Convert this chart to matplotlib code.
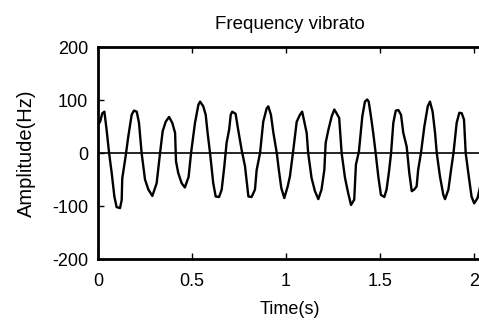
import matplotlib
matplotlib.use('Agg')
import matplotlib.pyplot as plt

# values
time_s = [0.0, 0.011, 0.023, 0.034, 0.046, 0.059, 0.073, 0.087, 0.099, 0.117,
          0.126, 0.129, 0.147, 0.161, 0.179, 0.191, 0.206, 0.218, 0.232, 0.25,
          0.268, 0.289, 0.312, 0.33, 0.344, 0.36, 0.378, 0.395, 0.41, 0.415,
          0.427, 0.445, 0.462, 0.482, 0.495, 0.516, 0.534, 0.543, 0.56, 0.573,
          0.583, 0.596, 0.613, 0.626, 0.644, 0.658, 0.672, 0.684, 0.698, 0.706,
          0.714, 0.732, 0.746, 0.764, 0.782, 0.8, 0.817, 0.835, 0.844, 0.862,
          0.879, 0.897, 0.906, 0.92, 0.933, 0.951, 0.962, 0.975, 0.991, 1.009,
          1.021, 1.039, 1.057, 1.074, 1.086, 1.11, 1.118, 1.136, 1.154, 1.172,
          1.189, 1.204, 1.211, 1.225, 1.243, 1.257, 1.269, 1.283, 1.296, 1.314,
          1.331, 1.346, 1.363, 1.372, 1.388, 1.406, 1.42, 1.432, 1.44, 1.452,
          1.464, 1.477, 1.491, 1.505, 1.523, 1.535, 1.548, 1.559, 1.571, 1.584,
          1.598, 1.612, 1.624, 1.642, 1.656, 1.669, 1.682, 1.695, 1.703, 1.718,
          1.736, 1.754, 1.766, 1.78, 1.793, 1.802, 1.819, 1.837, 1.846, 1.864,
          1.878, 1.891, 1.908, 1.922, 1.935, 1.947, 1.956, 1.97, 1.987, 2.001,
          2.019, 2.035]
amplitude = [53, 59, 75, 78, 43, 0, -38, -82, -102, -104,
             -89, -48, -6, 31, 72, 80, 78, 57, 0, -50,
             -69, -81, -57, 0, 41, 59, 68, 57, 38, -16,
             -38, -57, -65, -45, 0, 57, 91, 97, 88, 72,
             38, 0, -57, -82, -83, -69, -25, 19, 45, 72,
             78, 74, 43, 6, -25, -82, -83, -69, -32, 0,
             59, 84, 88, 72, 38, 0, -32, -66, -85, -63,
             -44, 6, 59, 72, 78, 38, 0, -47, -72, -87,
             -69, -32, 19, 43, 69, 82, 75, 66, 0, -47,
             -76, -98, -88, -22, 3, 69, 97, 101, 97, 69,
             38, 0, -44, -79, -83, -69, -35, 0, 57, 80,
             81, 72, 38, 12, -38, -72, -69, -63, -32, 0,
             50, 88, 97, 78, 38, 0, -44, -79, -87, -69,
             -32, 0, 57, 76, 75, 63, 0, -38, -82, -95,
             -85, -60]
x_ticks = [0, 0.5, 1, 1.5, 2]
x_tick_labels = ['0', '0.5', '1', '1.5', '2']
y_ticks = [-200, -100, 0, 100, 200]
y_tick_labels = ['-200', '-100', '0', '100', '200']

plt.rcParams['font.family'] = ['Liberation Sans', 'DejaVu Sans']

fig = plt.figure(figsize=(4.79, 3.2), dpi=100)
ax = fig.add_axes([0.2046, 0.1906, 0.8006, 0.6625])

ax.plot(time_s, amplitude, color='black', linewidth=1.7)
ax.axhline(0, color='black', linewidth=1.2)

ax.set_xlim(0, 2.04)
ax.set_ylim(-200, 200)
ax.set_xticks(x_ticks)
ax.set_xticklabels(x_tick_labels)
ax.set_yticks(y_ticks)
ax.set_yticklabels(y_tick_labels)
ax.tick_params(direction='in', length=4, width=1, labelsize=13, top=True)
ax.tick_params(axis='x', pad=10)
ax.tick_params(axis='y', pad=7)

for side in ax.spines.values():
    side.set_linewidth(2)

ax.set_title('Frequency vibrato', fontsize=13.5, pad=13)
ax.set_xlabel('Time(s)', fontsize=13, labelpad=8)
ax.set_ylabel('Amplitude(Hz)', fontsize=14.5, labelpad=12)

fig.savefig('out.png', dpi=100)
